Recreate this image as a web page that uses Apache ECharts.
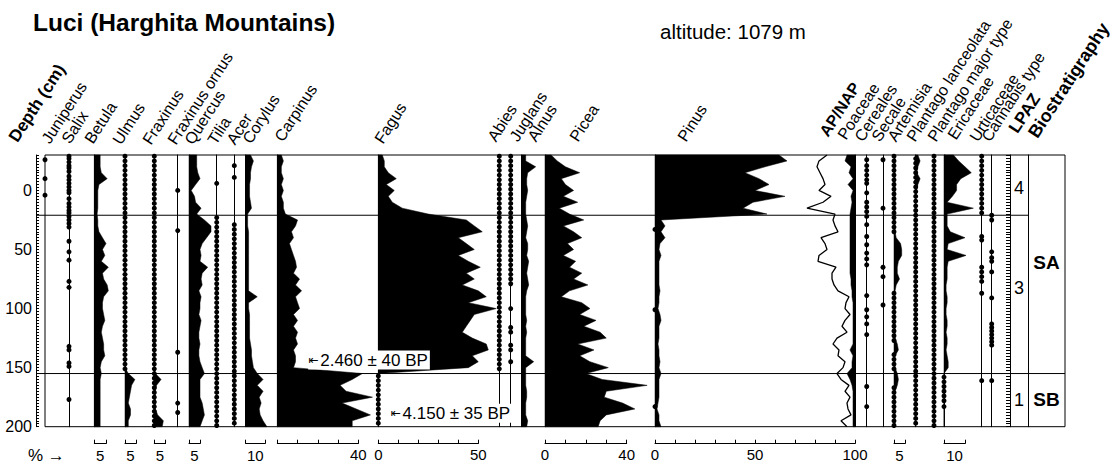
<!DOCTYPE html>
<html><head><meta charset="utf-8">
<script src="https://cdn.jsdelivr.net/npm/echarts@6/dist/echarts.min.js"></script>
<style>html,body{margin:0;padding:0;background:#fff}#c{width:1118px;height:468px}</style>
</head><body><div id="c"></div>
<script>
// ---------------- DATA ----------------
const depths = [-30,-25,-20,-15,-10,-5,0,5,10,15,20,25,30,35,40,45,50,55,60,65,70,75,80,85,90,95,100,105,110,115,120,125,130,135,140,145,150,155,160,165,170,175,180,185,190,195,200];
const depthLabels = [0,50,100,150,200];
const zoneDepths = [21, 155];
const lpazNames = ['4','3','1'];
const lpazDepths = [-2, 83, 177];
const bioNames = ['SA','SB'];
const bioDepths = [61, 177];
const dateTexts = ['2.460 \u00B1 40 BP', '4.150 \u00B1 35 BP'];
const dateDepths = [143.6, 188.7];

const betula = [2.5,2.5,2.5,3,5.5,2, 1.5,1.5,1.5,1.5,1.2, 1.5,1.5,2,3.5,5,3.5,4.5,3,6,3.5,4,5.5,6,4,3.5, 3.5,4,4.5,3.5,3,3.5,4,4,4.5,3,2.5, 3,2.5,2.5,2.5,2.5,2.5,2.5,2.5,2.5,2.5];
const ulmus = [0,0,0,0,0,0, 0,0,0,0,0, 0,0,0,0,0,0,0,0,0,0,0,0,0,0,0, 0,0,0,0,0,0,0,0,0,0,0, 1.5,4.5,3,2.5,2,1.5,2.5,2.5,1.5,1.5];
const fraxinus = [0,0,0,0,0,0, 0,0,0,0,0, 0,0,0,0,0,0,0,0,0,0,0,0,0,0,0, 0,0,0,0,0,0,0,0,0,0,0, 0.5,3,1,0.5,0.5,0.5,0.5,1.5,4,3.5];
const quercus = [3.5,3.5,3.5,4,5,3, 1,2.5,3,5.5,3.5, 7,10,10,8,6,5,5.5,5,8.5,6,5.5,6,4.5,5.5,5, 5,4.5,5.5,5,4.5,4.5,5,4.5,4.5,5,6, 7,5,5,5,5,6,6.5,7,6,5];
const corylus = [2.5,4,3,2.5,2.5,2, 2,2,2.5,3,1, 1,1,1.5,1.5,1.5,1.5,1.5,1.5,1.5,1.5,1.5,1.5,1.5,6,1.5, 1.5,2,2,2,2,2,2.5,3,3,3.5,4, 6,9,6,9,7,8,7,7.5,9,11];
const carpinus = [2,3,2,2,3,2, 3,2,3,3,4, 10,9,7,8,6,7,8,9,9.5,8,11,9,12,9,10, 11,8,10,8,10,9,10,8,9,9,8, 42,37,31,34,47,32,39,46,37,37];
const fagus = [2,3,3,5,9,4, 8,5,7,12,25, 44,48,52,40,44,48,40,45,51,44,48,42,50,54,45, 59,48,46,44,42,47,54,55,47,50,45, 0,0,0,0,0,0,0,0,0,0];
const alnus = [2,2,7,3,2.5,2.5, 3,2.5,2,2,2, 2.5,3,2.5,2,3,3,2.5,3.5,3,2.5,3,3.5,2.5,2,2, 2,2,2.5,2,2.5,2,2,2,2,6,2, 2,2,2,2.5,2.5,2,2,2,3,2.5];
const picea = [3,6,10,17,8,10, 14,9,16,7,12, 19,9,14,18,11,14,9,15,12,18,14,21,12,8,18, 22,17,25,19,27,30,16,24,17,22,31, 20,28,50,30,29,38,44,30,27,26];
const pinus = [62,66,55,45,52,57, 50,65,49,44,56, 3,5,3,5,2.5,2,3,2,2,2,2,2,2.5,2,2, 1.5,2.5,3,2,2,2,1.5,2,2,2.5,2, 3,2,2,2,2,1.5,1,2,2,3];
const apPercent = [86,82,81,82.5,84,85, 82,88,84,76,90, 89,90,91.5,83,85,86,82,81.5,90.5,88.5,88.5,89.5,91.5,97,95.5, 95,97.5,95,93.5,96,91,89,92,91.5,95,94, 91,93,97,95,97.5,96,96.5,98,93,96];
const poaceae = [4,5,2,3,1,3.5, 1,2,1.5,2,2.5, 2.5,2.5,2.5,2.5,2.5,2.5,2.5,2.5,2.5,2.5,2,2,1.5,1.5,1, 1,1,1,1,1,1,1,2.5,1,1.5,1.5, 4,2.5,1.5,1,1,1,1,1,1,1];
const artemisia = [0.5,0.5,0.5,0.5,0.5,0.5, 0.5,0.5,0.5,0.5,0.5, 0.5,0.5,0.5,1,3,3.5,3.5,2,1.5,1.5,2.5,1,0.5,0.5,0.5, 0.5,0.5,0.5,0.5,0.5,0.5,1.5,2,0.5,0.5,0.5, 1.5,2,1.5,0.5,0.5,0.5,0.5,0.5,0.5,0.5];
const plLanceolata = [1,2,1,0.5,2,1, 0.5,0,0,0,0, 0,0,0,0,0,0,0,0,0,0,0,0,0,0,0, 0,0,0,0,0,0,0,0,0,0,0, 0,0,0,0,0,0,0,0,0,0];
const ericaceae = [4.5,7,10,13,8,6, 6,4,1.5,14,1.5, 1.5,1.5,3,10,2,1.5,10.5,2,1.5,1.5,1.5,1,1,1.5,1.5, 1,1,1.5,1.5,1,1.5,1.5,1,1.5,2,2, 0,0,0,0,0,0,0,0,0,0];

// trace-level occurrences (dots), depths in cm
const juniperusDots = [-26,-10,4];
const salixDots = [-29,-27,-24,-21,-19,-16,-12,-9,-6,-3,0,2,7,11,14,17,19,22,25,28,31,43,52,59,77,82,132,135,146,149,177];
const ulmusDots = [-29,-25,-21,-17,-13,-9,-5,-1,3,7,11,15,19,23,27,31,35,39,43,47,51,55,59,63,67,71,75,79,83,87,91,95,99,103,107,111,115,119,123,127,131,135,139,143,147,151];
const fraxinusDots = [-29,-25,-21,-17,-13,-9,-5,-1,3,7,11,15,19,23,27,31,35,39,43,47,51,55,59,63,67,71,75,79,83,87,91,95,99,103,107,111,115,119,123,127,131,135,139,143,147,151,155,159,163,167,171,175,179,183,187,191,195,199];
const frOrnusDots = [0,34,137,180,188];
const tiliaDots = [-6,23,27,31,35,39,43,47,51,55,59,63,67,71,75,79,83,87,91,95,99,103,107,111,115,119,123,127,131,135,139,143,147,151,155,159,163,167,171,175,179,183,187,191,195,199];
const acerDots = [-21,-11,29,33,37,41,45,49,53,57,61,65,69,73,77,81,85,89,93,97,101,105,109,113,117,121,125,129,133,137,141,145,149,153,157,161,165,169,173,177,181,185,189,193,197];
const fagusDots = [157,161,165,169,173,177,181,185,189,193,197];
const abiesDots = [-29,-25,-21,-17,-13,-9,-5,-1,3,7,11,15,19,23,27,31,35,39,43,47,51,55,59,63,67,71,75,79,83,87,91,95,99,103,107,111,115,119,123,127,131,135,139,143,147,151];
const juglansDots = [-29,-25,-21,-17,-13,-9,-5,-1,3,7,11,15,19,23,27,31,35,39,43,47,51,55,59,63,67,71,75,79,100,116,120,131,135,145];
const pinusDots = [33,101,183];
const cerealesDots = [-26,-21,-17,-13,-9,-6,2,10,14,18,22,29,39,46,53,58,63,89,101,107,113,122,166,183];
const secaleDots = [-26,15,65,73,97];
const artemisiaDots = [-29,-25,-21,-17,-13,-9,-5,-1,3,7,11,15,19,23,27,31,35,87,91,95,99,103,107,111,115,119,123,127,139,143,147,151,167,171,175,179,183,187,191,195,199];
const plLanceolataDots = [-27,-23,-19,-15,-11,-7,-3,1,5,9,13,17,21,25,29,33,37,41,45,49,53,57,61,65,69,73,77,81,85,89,93,97,101,105,109,113,117,121,125,129,133,137,141,145,149,153,157,161,165,169,173,177,181,185,189,193,197];
const plMajorDots = [-29,-25,-21,-17,-13,-9,-5,-1,3,7,11,15,19,23,27,31,35,39,43,47,51,55,59,63,67,71,75,79,83,87,91,95,99,103,107,111,115,119,123,127,131,135,139,143,147,151,155,159,163,167,171,175,179,183,187,191,195,199];
const ericaceaeDots = [158,162,166,170,174,178,183];
const urticaceaeDots = [-29,-25,-21,-17,-13,-9,-5,-1,3,7,11,15,19,39,42,65,69,73,77,87,161];
const cannabisDots = [21,25,52,57,60,69,91,113,116,119,122,125,128,131,161];

// ---------------- LAYOUT / STYLE ----------------
const FONT = "'Liberation Sans', Arial, Helvetica, sans-serif";
const TOP = 155, PH = 271.7, DMIN = -30, DMAX = 200;
const grids = [], xAxes = [], yAxes = [], series = [];

function addGrid(left, width, extra) {
  grids.push(Object.assign({left: left, top: TOP, width: width, height: PH, containLabel: false, outerBoundsMode: 'none'}, extra || {}));
  return grids.length - 1;
}
function addY(g, extra) {
  yAxes.push(Object.assign({gridIndex: g, type: 'value', min: DMIN, max: DMAX, inverse: true, position: 'left',
    axisLine: {show: true, onZero: false, lineStyle: {color: '#000', width: 1}}, axisTick: {show: false},
    axisLabel: {show: false}, splitLine: {show: false}}, extra || {}));
  return yAxes.length - 1;
}
function addX(g, max, extra) {
  xAxes.push(Object.assign({gridIndex: g, type: 'value', min: 0, max: max, show: false, splitLine: {show: false},
    axisLine: {onZero: false}}, extra || {}));
  return xAxes.length - 1;
}
function bracket(max, name) {
  return {show: true, position: 'bottom', offset: 17, interval: max,
    axisLine: {show: true, onZero: false, lineStyle: {color: '#000', width: 1}},
    axisTick: {show: true, inside: true, length: 4, lineStyle: {color: '#000'}},
    axisLabel: {show: false}, name: name, nameLocation: 'middle', nameGap: 4,
    nameTextStyle: {fontSize: 15, color: '#000', fontFamily: FONT}};
}
function scale(shown) {
  return {show: true, position: 'bottom', offset: 17, interval: 10,
    axisLine: {show: true, onZero: false, lineStyle: {color: '#000', width: 1}},
    axisTick: {show: true, inside: true, length: 4, lineStyle: {color: '#000'}},
    axisLabel: {show: true, interval: 0, margin: 3, fontSize: 15, color: '#000', fontFamily: FONT,
      showMinLabel: true, showMaxLabel: true,
      formatter: v => shown.indexOf(v) >= 0 ? String(v) : ''}};
}
function silhouette(xi, yi, vals) {
  return {type: 'custom', xAxisIndex: xi, yAxisIndex: yi, clip: false, silent: true, z: 3,
    data: vals.map((v, i) => [v, depths[i]]), encode: {x: 0, y: 1},
    renderItem: (params, api) => {
      if (params.dataIndex !== 0) return null;
      const pts = [api.coord([0, depths[0]])];
      vals.forEach((v, i) => pts.push(api.coord([v, depths[i]])));
      pts.push(api.coord([0, depths[depths.length - 1]]));
      return {type: 'polygon', shape: {points: pts}, style: {fill: '#000', stroke: '#000', lineWidth: 0.5}};
    }};
}
function dots(xi, yi, list) {
  return {type: 'scatter', xAxisIndex: xi, yAxisIndex: yi, data: list.map(d => [0, d]),
    symbol: 'circle', symbolSize: 5, itemStyle: {color: '#000', opacity: 1}, clip: false, silent: true, z: 4};
}
function panel(left, width, max, o) {
  const g = addGrid(left, width);
  const yi = addY(g, o.noLine ? {axisLine: {show: false}} : {});
  const xi = addX(g, max, o.xAxis || {});
  if (o.values) series.push(silhouette(xi, yi, o.values));
  if (o.dots) series.push(dots(xi, yi, o.dots));
  return {g: g, xi: xi, yi: yi};
}

// frame
(function () {
  const g = addGrid(45, 1020, {show: true, borderColor: '#000', borderWidth: 1, backgroundColor: 'transparent'});
  addY(g, {show: false}); addX(g, 1, {});
})();

// depth axis + zone boundaries
(function () {
  const g = addGrid(36, 992);
  const yi = addY(g, {interval: 2.5,
    axisTick: {show: true, inside: true, length: 3, interval: 0, lineStyle: {color: '#000'}},
    axisLabel: {show: true, interval: 0, margin: 4, fontSize: 16, color: '#000', fontFamily: FONT,
      formatter: v => depthLabels.indexOf(v) >= 0 ? String(v) : ''}});
  const xi = addX(g, 1, {});
  zoneDepths.forEach(d => series.push({type: 'line', xAxisIndex: xi, yAxisIndex: yi, data: [[0, d], [1, d]],
    symbol: 'none', silent: true, lineStyle: {color: '#000', width: 1}, z: 2}));
})();

// taxa panels
panel(45, 8, 1, {dots: juniperusDots, noLine: true});
panel(69, 8, 1, {dots: salixDots});
panel(94.3, 11.7, 5, {values: betula, xAxis: bracket(5, '5')});
panel(125, 11, 5, {values: ulmus, dots: ulmusDots, xAxis: bracket(5, '5')});
panel(154.3, 11.3, 5, {values: fraxinus, dots: fraxinusDots, xAxis: bracket(5, '5')});
panel(177.7, 8, 1, {dots: frOrnusDots});
panel(189, 11, 5, {values: quercus, xAxis: bracket(5, '5')});
panel(216.7, 8, 1, {dots: tiliaDots});
panel(234.3, 8, 1, {dots: acerDots});
panel(245.7, 19.3, 10, {values: corylus, xAxis: bracket(10, '10')});
const carp = panel(277.3, 81, 40, {values: carpinus, xAxis: scale([40])});
const fag = panel(378.3, 100, 50, {values: fagus, dots: fagusDots, xAxis: scale([0, 50])});
panel(499.3, 8, 1, {dots: abiesDots});
panel(510.7, 8, 1, {dots: juglansDots});
panel(521.7, 10, 5, {values: alnus});
panel(545, 81.7, 40, {values: picea, xAxis: scale([0, 40])});
const pin = panel(655, 200, 100, {values: pinus, dots: pinusDots, xAxis: scale([0, 50, 100])});
series.push({type: 'line', xAxisIndex: pin.xi, yAxisIndex: pin.yi, data: apPercent.map((v, i) => [v, depths[i]]),
  symbol: 'none', silent: true, lineStyle: {color: '#000', width: 1.3}, z: 4});
// Poaceae drawn leftwards from the 100 % line
(function () {
  const g = addGrid(835, 20);
  const yi = addY(g, {position: 'right'});
  const xi = addX(g, 10, {inverse: true});
  series.push(silhouette(xi, yi, poaceae));
})();
panel(866.7, 8, 1, {dots: cerealesDots});
panel(883, 8, 1, {dots: secaleDots});
panel(894, 11, 5, {values: artemisia, dots: artemisiaDots, xAxis: bracket(5, '5')});
panel(915.7, 11, 5, {values: plLanceolata, dots: plLanceolataDots});
panel(934, 8, 1, {dots: plMajorDots});
panel(944, 21, 10, {values: ericaceae, dots: ericaceaeDots, xAxis: bracket(10, '10')});
panel(981.7, 8, 1, {dots: urticaceaeDots});
panel(991.7, 8, 1, {dots: cannabisDots});

// LPAZ column
(function () {
  const g = addGrid(1010, 18);
  const yi = addY(g, {interval: 2.5, axisTick: {show: true, inside: false, length: 4, interval: 0, lineStyle: {color: '#000'}}});
  const xi = addX(g, 1, {});
  series.push({type: 'scatter', xAxisIndex: xi, yAxisIndex: yi, symbolSize: 1, itemStyle: {color: '#fff', opacity: 1}, silent: true,
    data: lpazDepths.map((d, i) => ({value: [0.5, d], label: {formatter: lpazNames[i]}})),
    label: {show: true, position: 'inside', fontSize: 18, color: '#000', fontFamily: FONT}});
})();
// Biostratigraphy column
(function () {
  const g = addGrid(1028, 37);
  const yi = addY(g, {});
  const xi = addX(g, 1, {});
  series.push({type: 'line', xAxisIndex: xi, yAxisIndex: yi, data: [[0, zoneDepths[1]], [1, zoneDepths[1]]],
    symbol: 'none', silent: true, lineStyle: {color: '#000', width: 1}});
  series.push({type: 'scatter', xAxisIndex: xi, yAxisIndex: yi, symbolSize: 1, itemStyle: {color: '#fff', opacity: 1}, silent: true,
    data: bioDepths.map((d, i) => ({value: [0.5, d], label: {formatter: bioNames[i]}})),
    label: {show: true, position: 'inside', fontSize: 19, fontWeight: 'bold', color: '#000', fontFamily: FONT}});
})();

// radiocarbon dates
const dateLabel = {show: true, position: 'right', distance: 0, color: '#000', fontSize: 17, fontFamily: FONT, opacity: 1,
  backgroundColor: '#ffffff', padding: [1, 2, 1, 0],
  rich: {a: {fontSize: 12, fontFamily: "'DejaVu Sans', sans-serif", color: '#000', padding: [0, 2, 0, 0]}}};
series.push({type: 'scatter', xAxisIndex: carp.xi, yAxisIndex: carp.yi, symbolSize: 1, itemStyle: {color: '#fff', opacity: 1}, silent: true, z: 10, clip: false,
  data: [{value: [15, dateDepths[0]], label: {formatter: '{a|\u21E4}' + dateTexts[0]}}], label: dateLabel});
series.push({type: 'scatter', xAxisIndex: fag.xi, yAxisIndex: fag.yi, symbolSize: 1, itemStyle: {color: '#fff', opacity: 1}, silent: true, z: 10, clip: false,
  data: [{value: [5.85, dateDepths[1]], label: {formatter: '{a|\u21E4}' + dateTexts[1]}}], label: dateLabel});

// ---------------- TEXT ----------------
const ROT = 57 * Math.PI / 180;
const headers = [
  ['Depth (cm)', 15, 144, true, 17], ['Juniperus', 47, 145], ['Salix', 67, 145], ['Betula', 90, 145],
  ['Ulmus', 118, 146], ['Fraxinus', 148, 146], ['Fraxinus ornus', 173, 146], ['Quercus', 190, 146],
  ['Tilia', 213, 146], ['Acer', 232, 146], ['Corylus', 248, 145], ['Carpinus', 280, 143],
  ['Fagus', 380, 145], ['Abies', 493, 143], ['Juglans', 515, 143], ['Alnus', 533, 143],
  ['Picea', 575, 143], ['Pinus', 683, 143], ['AP/NAP', 825, 138, true, 16], ['Poaceae', 843, 141],
  ['Cereales', 860, 143], ['Secale', 877, 143], ['Artemisia', 893, 143], ['Plantago lanceolata', 912, 143],
  ['Plantago major type', 933, 143], ['Ericaceae', 953, 141], ['Urticaceae', 975, 143], ['Cannabis type', 987, 143],
  ['LPAZ', 1015, 135, true, 17], ['Biostratigraphy', 1035, 140, true, 18]
];
const HDX = 5, HDY = 1;
const graphic = headers.map(h => ({type: 'text', x: h[1] + HDX, y: h[2] + HDY, rotation: ROT, silent: true,
  style: {text: h[0], fontSize: h[4] || 16, fontWeight: h[3] ? 'bold' : 'normal', fontFamily: FONT, fill: '#000',
    textAlign: 'left', textVerticalAlign: 'bottom'}}));
graphic.push({type: 'text', x: 33, y: 22, silent: true, style: {text: 'Luci (Harghita Mountains)', fontSize: 24.5, fontWeight: 'bold',
  fontFamily: FONT, fill: '#000', textAlign: 'left', textVerticalAlign: 'middle'}});
graphic.push({type: 'text', x: 660, y: 31, silent: true, style: {text: 'altitude: 1079 m', fontSize: 20.5,
  fontFamily: FONT, fill: '#000', textAlign: 'left', textVerticalAlign: 'middle'}});
graphic.push({type: 'text', x: 28, y: 455, silent: true, style: {text: '% \u2192', fontSize: 17,
  fontFamily: FONT, fill: '#000', textAlign: 'left', textVerticalAlign: 'middle'}});

const chart = echarts.init(document.getElementById('c'), null, {renderer: 'svg'});
chart.setOption({animation: false, backgroundColor: '#fff', grid: grids, xAxis: xAxes, yAxis: yAxes, series: series, graphic: graphic});
</script></body></html>
